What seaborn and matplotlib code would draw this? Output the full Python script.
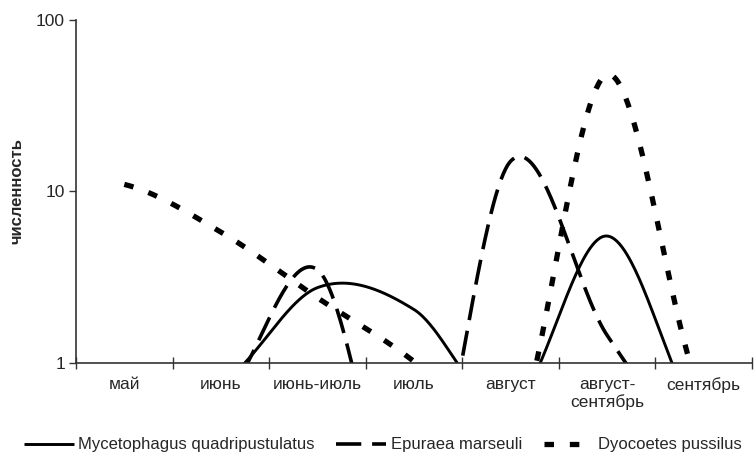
import numpy as np
import pandas as pd
import matplotlib
matplotlib.use("Agg")
import matplotlib.pyplot as plt
import seaborn as sns
from matplotlib.ticker import FixedLocator, NullLocator, NullFormatter

# Сезонная численность жуков по месяцам учёта
months = ["май", "июнь", "июнь-июль", "июль", "август", "август-\nсентябрь", "сентябрь"]
mycetophagus = [np.nan, 0.77, 2.75, 2.05, 0.55, 5.5, 0.44]
epuraea = [np.nan, 0.6, 3.5, 0.09, 15.0, 1.45, 0.31]
dyocoetes = [11.0, 5.8, 2.4, 1.02, 0.32, 48.0, 0.63]
species = ["Mycetophagus quadripustulatus", "Epuraea marseuli", "Dyocoetes pussilus"]
y_ticks = [1, 10, 100]


def smooth(values, steps=80):
    """Сглаженная кривая (Catmull-Rom) через точки ряда в логарифмической шкале."""
    y = np.log10(np.asarray(values, dtype=float))
    n = len(y)
    xs, ys = [], []
    t = np.linspace(0.0, 1.0, steps)
    h00 = 2 * t**3 - 3 * t**2 + 1
    h10 = t**3 - 2 * t**2 + t
    h01 = -2 * t**3 + 3 * t**2
    h11 = t**3 - t**2
    for i in range(n - 1):
        if np.isnan(y[i]) or np.isnan(y[i + 1]):
            continue
        p0 = y[i - 1] if i > 0 and not np.isnan(y[i - 1]) else y[i]
        p3 = y[i + 2] if i + 2 < n and not np.isnan(y[i + 2]) else y[i + 1]
        m1 = (y[i + 1] - p0) / 2
        m2 = (p3 - y[i]) / 2
        seg = h00 * y[i] + h10 * m1 + h01 * y[i + 1] + h11 * m2
        xs.extend(i + t)
        ys.extend(10 ** seg)
    return pd.DataFrame({"x": xs, "y": ys})


sns.set_theme(style="white")
plt.rcParams["font.family"] = ["Liberation Sans", "DejaVu Sans"]

fig = plt.figure(figsize=(7.55, 4.61), dpi=100)
ax = fig.add_axes([0.1007, 0.2126, 0.8953, 0.744])

styles = [
    dict(lw=2.1, linestyle="-"),
    dict(lw=2.6, linestyle=(0, (7, 3))),
    dict(lw=3.8, linestyle=(0, (1.8, 3.0))),
]
for values, name, st in zip([mycetophagus, epuraea, dyocoetes], species, styles):
    df = smooth(values)
    sns.lineplot(data=df, x="x", y="y", color="black", sort=False, estimator=None,
                 label=name, ax=ax, solid_capstyle="butt", dash_capstyle="butt", **st)

ax.set_yscale("log")
ax.set_ylim(1, 100)
ax.set_xlim(-0.5, len(months) - 0.5)

ax.yaxis.set_major_locator(FixedLocator(y_ticks))
ax.yaxis.set_minor_locator(NullLocator())
ax.set_yticklabels([str(v) for v in y_ticks], fontsize=12.5)
ax.tick_params(axis="y", which="major", direction="out", length=5, width=1, color="#333333",
               left=True, pad=3)

ax.set_xticks(range(len(months)))
ax.set_xticklabels(months, fontsize=12.5, linespacing=1.15)
ax.xaxis.set_minor_locator(FixedLocator(np.arange(-0.5, len(months), 1.0)))
ax.xaxis.set_minor_formatter(NullFormatter())
ax.tick_params(axis="x", which="major", length=0, pad=10)
ax.tick_params(axis="x", which="minor", direction="inout", length=8, width=1, color="#333333",
               bottom=True)

for side in ["top", "right"]:
    ax.spines[side].set_visible(False)
for side in ["left", "bottom"]:
    ax.spines[side].set_color("#333333")
    ax.spines[side].set_linewidth(1.2)

ax.set_xlabel("")
ax.set_ylabel("численность", fontsize=12, fontweight="bold")
ax.yaxis.set_label_coords(-0.076, 0.5)
ax.grid(False)

handles, labels = ax.get_legend_handles_labels()
ax.get_legend().remove()
fig.legend(handles, labels, loc="center", bbox_to_anchor=(0.507, 0.035), ncol=3, frameon=False,
           fontsize=12, handlelength=3.0, handletextpad=0.25, columnspacing=1.3)

fig.savefig("out.png", dpi=100, facecolor="white")
